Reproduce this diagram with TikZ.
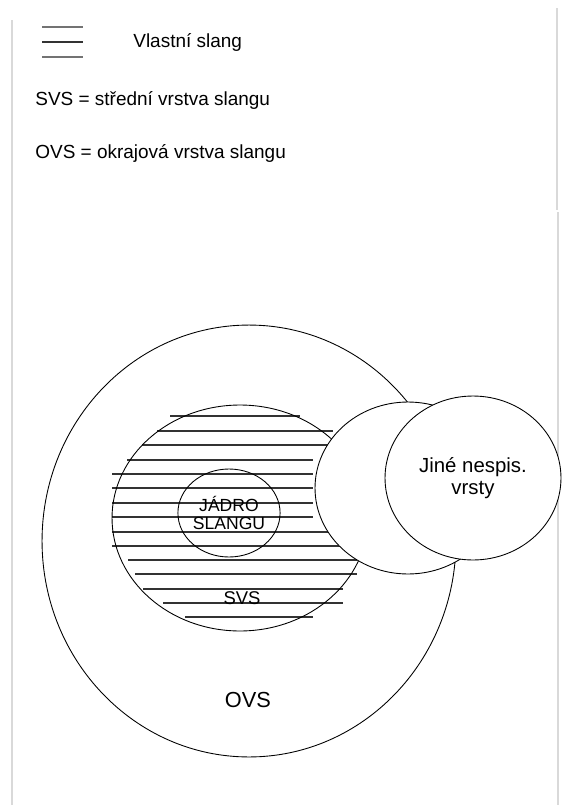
\documentclass[tikz,border=0pt]{standalone}
\usepackage{fontspec}
\setmainfont{Liberation Sans}
\usetikzlibrary{shapes.geometric,positioning}

\begin{document}
\begin{tikzpicture}[x=0.02cm, y=-0.02cm,
  ring/.style={ellipse, draw, line width=0.5pt, fill=white, inner sep=0pt, align=center},
  hatch/.style={line width=0.6pt, black!80},
  frame/.style={line width=0.8pt, black!15},
  lbl/.style={anchor=west, inner sep=0pt, font=\fontsize{10.8}{13}\selectfont}
]
  \useasboundingbox (0,0) rectangle (564,805);
  % page edges
  \draw[frame] (12,20) -- (12,805);
  \draw[frame] (557,8) -- (557,210);
  \draw[frame] (558,212) -- (558,805);

  % legend
  \draw[hatch, black!55] (42,27) -- (83,27);
  \draw[hatch] (42,42) -- (83,42);
  \draw[hatch, black!55] (42,57) -- (83,57);
  \node[lbl] (vlastni) at (133,42) {Vlastní slang};
  \node[lbl] (svsdef) at (35,100) {SVS = střední vrstva slangu};
  \node[lbl] (ovsdef) at (35,153) {OVS = okrajová vrstva slangu};

  % outer layer
  \node[ring, minimum width=8.28cm, minimum height=8.64cm] (ovs) at (249,541) {};
  \node[font=\fontsize{12.4}{14}\selectfont] (ovslbl) at (248,700) {OVS};

  % proper slang
  \foreach \y/\a/\b in {416/170/300, 431/157/333, 445/142/333, 460/127/313, 474/112/313,
      488/112/313, 503/112/313, 517/112/313, 532/112/328, 546/112/343,
      560/128/357, 574/135/357, 589/143/343, 603/163/343, 617/185/313}{
    \draw[hatch] (\a,\y) -- (\b,\y);}
  \node[ring, fill=none, minimum width=5.12cm, minimum height=4.52cm] (svs) at (240,518) {};
  \node[font=\fontsize{10.5}{12}\selectfont] (svslbl) at (242,598) {SVS};
  \node[ring, fill=none, minimum width=2.04cm, minimum height=1.76cm,
        font=\fontsize{10}{10.5}\selectfont] (jadro) at (229,513) {JÁDRO\\SLANGU};

  % other non-standard layers
  \node[ring, minimum width=3.72cm, minimum height=3.44cm] (mid) at (408,488) {};
  \node[ring, minimum width=3.52cm, minimum height=3.28cm,
        font=\fontsize{11.6}{12.6}\selectfont] (jine) at (473,478) {Jiné nespis.\\vrsty};
\end{tikzpicture}
\end{document}
